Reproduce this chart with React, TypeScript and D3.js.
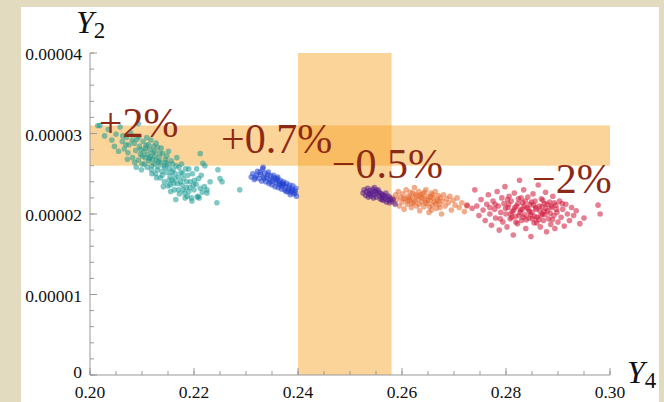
import React from "react";
import * as d3 from "d3";

const W = 664;
const H = 402;

// Axis ticks
const xTickValues = [0.2, 0.22, 0.24, 0.26, 0.28, 0.3];
const xTickLabels = ["0.20", "0.22", "0.24", "0.26", "0.28", "0.30"];
const yTickValues = [0, 1e-5, 2e-5, 3e-5, 4e-5];
const yTickLabels = ["0", "0.00001", "0.00002", "0.00003", "0.00004"];
const xMinorStep = 0.005;
const yMinorStep = 0.2e-5;

// Highlight bands
const bandY4 = [0.24, 0.258];
const bandY2 = [2.6e-5, 3.1e-5];

// Y2 values below are in units of 1e-5
const Y2_UNIT = 1e-5;

const tealPts: [number, number][] = [
  [0.2015, 3.1], [0.2019, 3.1], [0.2028, 2.97], [0.2035, 3.05], [0.2042, 2.92], [0.205, 2.99], [0.2047, 2.84],
  [0.2058, 3.08], [0.2062, 2.9], [0.2066, 2.81], [0.207, 2.95], [0.2073, 2.76], [0.2075, 2.86], [0.2078, 3.01],
  [0.2082, 2.7], [0.2085, 2.88], [0.2088, 2.79], [0.209, 2.93], [0.2093, 2.67], [0.2095, 2.84], [0.2097, 2.74],
  [0.21, 2.62], [0.2102, 2.9], [0.2104, 2.78], [0.2106, 2.7], [0.2108, 2.85], [0.211, 2.58], [0.2111, 2.74],
  [0.2113, 2.66], [0.2115, 2.8], [0.2116, 2.71], [0.2118, 2.55], [0.212, 2.68], [0.2121, 2.76], [0.2123, 2.62],
  [0.2125, 2.72], [0.2126, 2.5], [0.2128, 2.66], [0.213, 2.83], [0.2131, 2.59], [0.2133, 2.7], [0.2135, 2.45],
  [0.2136, 2.64], [0.2138, 2.53], [0.214, 2.75], [0.2142, 2.6], [0.2143, 2.4], [0.2145, 2.68], [0.2147, 2.52],
  [0.2149, 2.62], [0.215, 2.35], [0.2152, 2.57], [0.2154, 2.47], [0.2156, 2.66], [0.2158, 2.42], [0.216, 2.55],
  [0.2162, 2.3], [0.2164, 2.5], [0.2166, 2.6], [0.2168, 2.38], [0.217, 2.46], [0.2172, 2.25], [0.2175, 2.52],
  [0.2177, 2.36], [0.218, 2.44], [0.2183, 2.2], [0.2185, 2.33], [0.2188, 2.48], [0.219, 2.28], [0.2193, 2.4],
  [0.2196, 2.16], [0.22, 2.3], [0.2204, 2.37], [0.2208, 2.22], [0.2212, 2.32], [0.2216, 2.27], [0.222, 2.34],
  [0.2225, 2.26], [0.2244, 2.14], [0.2288, 2.3], [0.2098, 2.8], [0.2105, 2.62], [0.2112, 2.86], [0.2119, 2.6],
  [0.2124, 2.78], [0.2129, 2.55], [0.2134, 2.76], [0.2139, 2.48], [0.2144, 2.58], [0.2094, 2.96], [0.2086, 2.64],
  [0.2117, 2.92], [0.2127, 2.88], [0.2148, 2.72], [0.2157, 2.52], [0.2163, 2.44], [0.2171, 2.58], [0.2179, 2.3],
  [0.2187, 2.22], [0.2141, 2.34], [0.2155, 2.28], [0.2165, 2.18], [0.2174, 2.4], [0.2072, 2.68], [0.2063, 2.97],
  [0.2055, 2.78], [0.219, 2.56], [0.2201, 2.42], [0.221, 2.2], [0.2195, 2.2], [0.2182, 2.26], [0.217, 2.3],
  [0.2093, 3.12], [0.2212, 2.75], [0.2217, 2.63], [0.2221, 2.6], [0.2246, 2.55], [0.225, 2.44], [0.2231, 2.4],
  [0.2254, 2.4], [0.2206, 2.21], [0.2154, 2.36], [0.2192, 2.33], [0.2225, 2.3],
  [0.2101, 2.72], [0.2107, 2.82], [0.2114, 2.69], [0.2122, 2.84], [0.2132, 2.65], [0.2137, 2.82], [0.2146, 2.64],
  [0.2151, 2.78], [0.2159, 2.62], [0.2167, 2.7], [0.2176, 2.62], [0.2184, 2.56], [0.2197, 2.5], [0.2205, 2.56],
  [0.2214, 2.48], [0.2109, 2.95], [0.2099, 2.55], [0.2089, 2.58], [0.2081, 2.92], [0.2069, 2.86], [0.2152, 2.42],
  [0.2161, 2.38], [0.2178, 2.5], [0.2186, 2.4], [0.2199, 2.36], [0.2209, 2.44], [0.2119, 2.5], [0.2128, 2.45],
];

const bluePts: [number, number][] = [
  [0.231, 2.46], [0.2313, 2.5], [0.2316, 2.43], [0.232, 2.48], [0.2322, 2.53], [0.2325, 2.44], [0.2328, 2.49],
  [0.233, 2.41], [0.2332, 2.56], [0.2334, 2.46], [0.2336, 2.51], [0.2338, 2.4], [0.234, 2.45], [0.2342, 2.49],
  [0.2344, 2.38], [0.2346, 2.43], [0.2348, 2.47], [0.235, 2.36], [0.2352, 2.41], [0.2354, 2.45], [0.2356, 2.34],
  [0.2358, 2.39], [0.236, 2.44], [0.2362, 2.33], [0.2364, 2.37], [0.2366, 2.42], [0.2368, 2.31], [0.237, 2.36],
  [0.2372, 2.4], [0.2374, 2.3], [0.2376, 2.34], [0.2378, 2.38], [0.238, 2.28], [0.2382, 2.33], [0.2384, 2.36],
  [0.2386, 2.27], [0.2388, 2.31], [0.239, 2.35], [0.2392, 2.25], [0.2394, 2.29], [0.2396, 2.32], [0.2397, 2.22],
  [0.2395, 2.26], [0.2385, 2.24], [0.2343, 2.52], [0.2347, 2.4], [0.2353, 2.48], [0.2357, 2.43], [0.2363, 2.4],
  [0.2367, 2.35], [0.2373, 2.37], [0.2377, 2.28], [0.2383, 2.3], [0.2327, 2.52], [0.2318, 2.45], [0.2335, 2.44],
  [0.2361, 2.46], [0.2369, 2.38], [0.2389, 2.29], [0.2333, 2.58],
];

const purplePts: [number, number][] = [
  [0.2525, 2.26], [0.2527, 2.3], [0.253, 2.23], [0.2532, 2.28], [0.2534, 2.32], [0.2536, 2.25], [0.2538, 2.29],
  [0.254, 2.22], [0.2542, 2.27], [0.2544, 2.31], [0.2546, 2.24], [0.2548, 2.28], [0.255, 2.21], [0.2552, 2.26],
  [0.2554, 2.3], [0.2556, 2.23], [0.2558, 2.19], [0.256, 2.25], [0.2562, 2.21], [0.2564, 2.17], [0.2566, 2.23],
  [0.2568, 2.19], [0.257, 2.15], [0.2572, 2.21], [0.2574, 2.17], [0.2576, 2.14], [0.2578, 2.19], [0.258, 2.16],
  [0.2583, 2.18], [0.2587, 2.12], [0.2539, 2.25], [0.2545, 2.2], [0.2551, 2.29], [0.2557, 2.27], [0.2563, 2.24],
  [0.2569, 2.26], [0.2575, 2.22], [0.2535, 2.21], [0.2547, 2.33], [0.2561, 2.18],
];

const orangePts: [number, number][] = [
  [0.2582, 2.2], [0.2585, 2.14], [0.2588, 2.24], [0.259, 2.18], [0.2593, 2.28], [0.2595, 2.1], [0.2597, 2.21],
  [0.26, 2.15], [0.2602, 2.25], [0.2604, 2.06], [0.2606, 2.19], [0.2608, 2.3], [0.261, 2.12], [0.2612, 2.22],
  [0.2614, 2.17], [0.2616, 2.27], [0.2618, 2.08], [0.262, 2.2], [0.2622, 2.14], [0.2624, 2.33], [0.2626, 2.24],
  [0.2628, 2.1], [0.263, 2.18], [0.2632, 2.28], [0.2634, 2.04], [0.2636, 2.21], [0.2638, 2.15], [0.264, 2.25],
  [0.2642, 2.09], [0.2644, 2.19], [0.2646, 2.3], [0.2648, 2.13], [0.265, 2.22], [0.2652, 2.02], [0.2654, 2.17],
  [0.2656, 2.26], [0.2658, 2.11], [0.266, 2.2], [0.2662, 2.15], [0.2664, 2.28], [0.2666, 2.07], [0.2668, 2.18],
  [0.267, 2.23], [0.2672, 2.12], [0.2674, 2.2], [0.2676, 2.0], [0.2678, 2.16], [0.268, 2.24], [0.2683, 2.1],
  [0.2686, 2.19], [0.2689, 2.14], [0.2692, 2.22], [0.2695, 2.05], [0.2698, 2.17], [0.2702, 2.11], [0.2706, 2.2],
  [0.271, 2.08], [0.2715, 2.14], [0.272, 2.03], [0.2725, 2.1], [0.2615, 2.2], [0.2625, 2.16], [0.2635, 2.24],
  [0.2645, 2.14], [0.2655, 2.21], [0.2665, 2.13], [0.2633, 2.12], [0.2643, 2.27], [0.2653, 2.09], [0.2621, 2.26],
  [0.2611, 2.16], [0.2639, 2.2], [0.2649, 2.17], [0.2659, 2.24], [0.2669, 2.16], [0.2629, 2.22], [0.2619, 2.13],
  [0.2603, 2.19], [0.2673, 2.08], [0.2657, 2.05],
];

const redPts: [number, number][] = [
  [0.2744, 2.1], [0.2748, 1.98], [0.2752, 2.18], [0.2756, 2.05], [0.276, 1.92], [0.2763, 2.12], [0.2766, 2.24],
  [0.2769, 2.0], [0.2772, 1.86], [0.2775, 2.16], [0.2778, 2.06], [0.278, 1.95], [0.2783, 2.28], [0.2785, 2.1],
  [0.2787, 1.8], [0.279, 2.02], [0.2792, 2.2], [0.2794, 1.9], [0.2796, 2.13], [0.2798, 2.34], [0.28, 2.0],
  [0.2802, 1.84], [0.2804, 2.08], [0.2806, 2.22], [0.2808, 1.94], [0.281, 2.16], [0.2812, 2.03], [0.2814, 1.74],
  [0.2816, 2.26], [0.2818, 1.97], [0.282, 2.1], [0.2822, 1.88], [0.2824, 2.19], [0.2826, 2.42], [0.2828, 2.05],
  [0.283, 1.92], [0.2832, 2.14], [0.2834, 2.3], [0.2836, 1.99], [0.2838, 1.82], [0.284, 2.08], [0.2842, 2.21],
  [0.2844, 1.95], [0.2846, 2.12], [0.2848, 1.72], [0.285, 2.02], [0.2852, 2.25], [0.2854, 1.89], [0.2856, 2.16],
  [0.2858, 2.06], [0.286, 1.96], [0.2862, 2.36], [0.2864, 2.1], [0.2866, 1.84], [0.2868, 2.19], [0.287, 2.0],
  [0.2872, 1.92], [0.2874, 2.13], [0.2876, 2.27], [0.2878, 1.78], [0.288, 2.04], [0.2882, 1.94], [0.2884, 2.15],
  [0.2886, 1.87], [0.2888, 2.08], [0.289, 2.22], [0.2892, 1.98], [0.2894, 1.82], [0.2896, 2.11], [0.2898, 2.02],
  [0.29, 1.9], [0.2903, 2.16], [0.2906, 1.96], [0.2909, 2.06], [0.2912, 1.85], [0.2915, 2.12], [0.2918, 2.0],
  [0.2922, 1.92], [0.2926, 2.08], [0.293, 1.98], [0.2935, 2.04], [0.2942, 1.88], [0.295, 1.95], [0.2977, 2.11],
  [0.2981, 2.0], [0.2815, 2.05], [0.2825, 1.98], [0.2835, 2.1], [0.2845, 2.03], [0.2855, 1.97], [0.2865, 2.04],
  [0.2875, 1.99], [0.2885, 2.01], [0.2805, 2.12], [0.2819, 1.9], [0.2829, 2.2], [0.2839, 1.93], [0.2849, 2.15],
  [0.2859, 1.89], [0.2869, 2.09], [0.2879, 2.12], [0.2889, 1.93], [0.2799, 2.07], [0.2789, 1.94], [0.2809, 2.0],
  [0.2843, 2.06], [0.2853, 2.11], [0.2863, 1.93], [0.2873, 2.03], [0.2833, 1.96], [0.2823, 2.13], [0.2897, 2.06],
  [0.2908, 2.13], [0.2779, 2.12], [0.2769, 2.08], [0.274, 2.3], [0.2725, 2.11], [0.2735, 2.07],
  [0.2817, 2.08], [0.2827, 2.02], [0.2837, 2.16], [0.2847, 1.99], [0.2857, 2.08], [0.2867, 1.98], [0.2877, 2.07],
  [0.2887, 2.1], [0.2811, 1.96], [0.2831, 2.06], [0.2851, 1.94], [0.2871, 2.17], [0.2893, 2.14], [0.2803, 2.18],
];

const series = [
  { name: "+2%", pts: tealPts, color: "#1c9a93" },
  { name: "+0.7%", pts: bluePts, color: "#1f3fd0" },
  { name: "-0.5% b", pts: orangePts, color: "#e6672c" },
  { name: "-0.5% a", pts: purplePts, color: "#561a8c" },
  { name: "-2%", pts: redPts, color: "#cf1538" },
];

const annotations = [
  { text: "+2%", x: 0.2017, y: 2.96 },
  { text: "+0.7%", x: 0.2252, y: 2.76 },
  { text: "\u22120.5%", x: 0.2465, y: 2.45 },
  { text: "\u22122%", x: 0.285, y: 2.26 },
];

const SERIF = "'Liberation Serif', 'DejaVu Serif', serif";

export default function App() {
  const x = d3.scaleLinear().domain([0.2, 0.3]).range([90, 610]);
  const y = d3.scaleLinear().domain([0, 4e-5]).range([375, 53]);
  const xMinor = d3.range(0.2, 0.3 + 1e-9, xMinorStep);
  const yMinor = d3.range(0, 4e-5 + 1e-12, yMinorStep);
  const axisColor = "#9a9a9a";

  return (
    <svg
      width={W}
      height={H}
      style={{ position: "absolute", left: 0, top: 0, display: "block" }}
    >
      <rect x={0} y={0} width={W} height={H} fill="#e3dbbf" />
      <rect x={21} y={7} width={638} height={H - 7} fill="#ffffff" />

      {/* bands */}
      <rect
        x={x(bandY4[0])}
        y={y(4e-5)}
        width={x(bandY4[1]) - x(bandY4[0])}
        height={y(0) - y(4e-5)}
        fill="#f7a01e"
        fillOpacity={0.45}
      />
      <rect
        x={x(0.2)}
        y={y(bandY2[1])}
        width={x(0.3) - x(0.2)}
        height={y(bandY2[0]) - y(bandY2[1])}
        fill="#f7a01e"
        fillOpacity={0.45}
      />

      {/* axes */}
      <line x1={x(0.2)} x2={x(0.3)} y1={y(0)} y2={y(0)} stroke={axisColor} strokeWidth={1} />
      <line x1={x(0.2)} x2={x(0.2)} y1={y(0)} y2={y(4e-5)} stroke={axisColor} strokeWidth={1} />
      {xMinor.map((v, i) => (
        <line key={"xm" + i} x1={x(v)} x2={x(v)} y1={y(0)} y2={y(0) - 4} stroke={axisColor} />
      ))}
      {xTickValues.map((v, i) => (
        <g key={"xt" + i}>
          <line x1={x(v)} x2={x(v)} y1={y(0)} y2={y(0) - 7} stroke={axisColor} />
          <text
            x={x(v)}
            y={y(0) + 23}
            textAnchor="middle"
            fontFamily={SERIF}
            fontSize={17.5}
            fill="#111"
          >
            {xTickLabels[i]}
          </text>
        </g>
      ))}
      {yMinor.map((v, i) => (
        <line key={"ym" + i} x1={x(0.2)} x2={x(0.2) + 4} y1={y(v)} y2={y(v)} stroke={axisColor} />
      ))}
      {yTickValues.map((v, i) => (
        <g key={"yt" + i}>
          <line x1={x(0.2)} x2={x(0.2) + 7} y1={y(v)} y2={y(v)} stroke={axisColor} />
          <text
            x={x(0.2) - 8}
            y={v === 0 ? y(v) + 3 : y(v) + 7}
            textAnchor="end"
            fontFamily={SERIF}
            fontSize={17.5}
            fill="#111"
          >
            {yTickLabels[i]}
          </text>
        </g>
      ))}

      {/* axis labels */}
      <text x={76} y={33} fontFamily={SERIF} fontSize={32} fontStyle="italic" fill="#111">
        Y<tspan fontSize={23} fontStyle="normal" dy={5}>2</tspan>
      </text>
      <text x={627} y={383} fontFamily={SERIF} fontSize={32} fontStyle="italic" fill="#111">
        Y<tspan fontSize={23} fontStyle="normal" dy={5}>4</tspan>
      </text>

      {/* points */}
      {series.map((s) => (
        <g key={s.name} fill={s.color} fillOpacity={0.55}>
          {s.pts.map((p, i) => (
            <circle key={i} cx={x(p[0])} cy={y(p[1] * Y2_UNIT)} r={2.8} />
          ))}
        </g>
      ))}

      {/* annotations */}
      {annotations.map((a) => (
        <text
          key={a.text}
          x={x(a.x)}
          y={y(a.y * Y2_UNIT)}
          fontFamily={SERIF}
          fontSize={42}
          fill="#8c2a16"
        >
          {a.text}
        </text>
      ))}
    </svg>
  );
}
